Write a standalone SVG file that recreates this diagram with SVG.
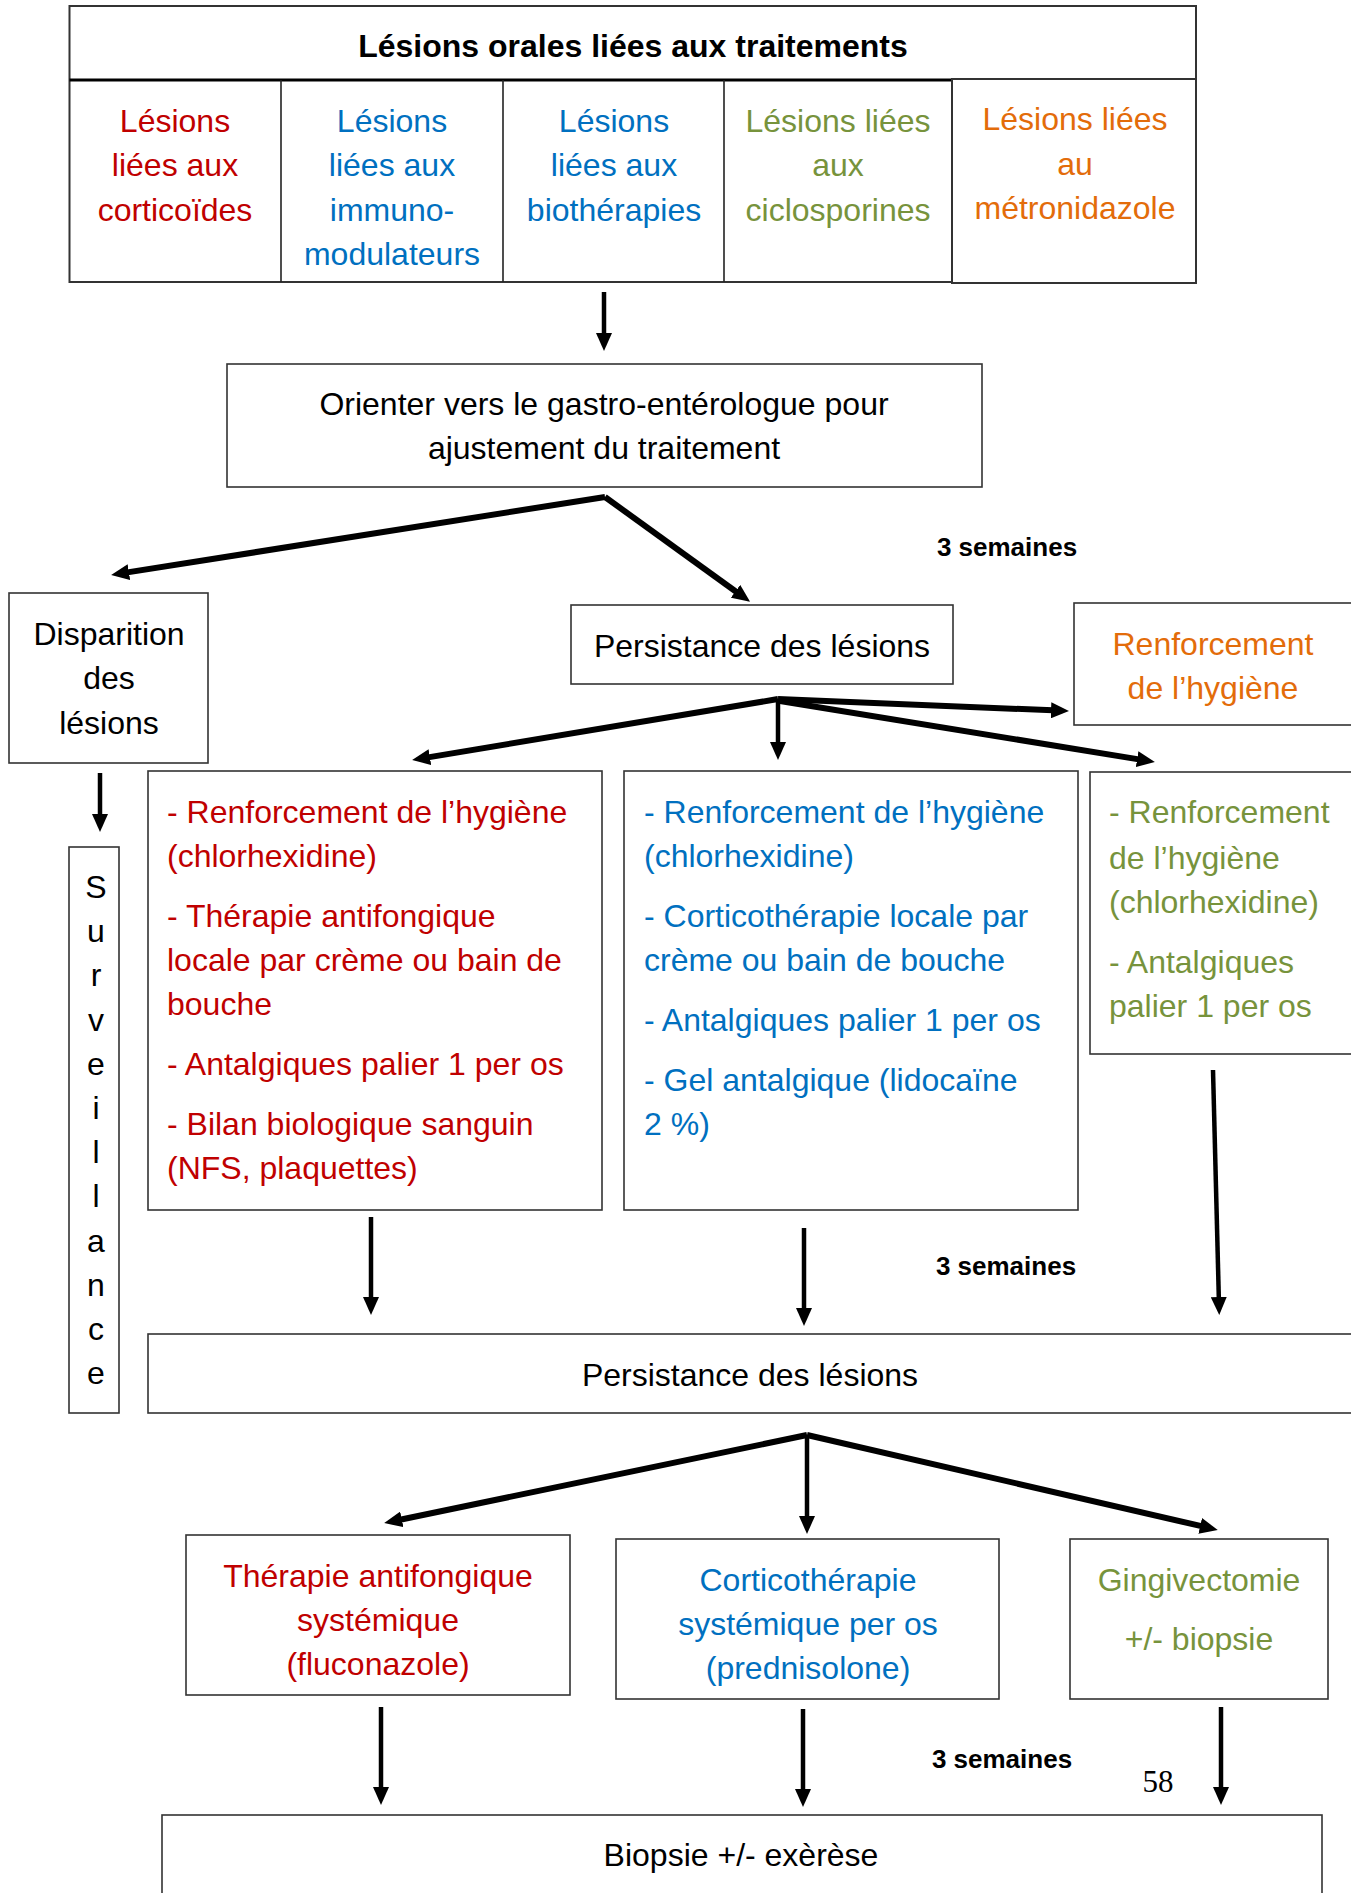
<svg xmlns="http://www.w3.org/2000/svg" width="1351" height="1893" viewBox="0 0 1351 1893">
<style>
text{font-family:"Liberation Sans",Arial,sans-serif;font-size:32px;fill:#000}
.b{font-weight:bold}
.c{text-anchor:middle}
.red{fill:#C00000}.blue{fill:#0070C0}.green{fill:#77933C}.orange{fill:#E36C0A}
.box{fill:#fff;stroke:#333;stroke-width:1.6}
.thin{stroke:#000;stroke-width:4.5;fill:none}
.thick{stroke:#000;stroke-width:6;fill:none}
.sem{font-weight:bold;font-size:26px}
</style>
<defs>
<marker id="ah" viewBox="0 0 18 16" refX="8" refY="8" markerWidth="18" markerHeight="16" markerUnits="userSpaceOnUse" orient="auto"><path d="M0,0 L18,8 L0,16 z" fill="#000"/></marker>
</defs>
<rect width="1351" height="1893" fill="#fff"/>

<g id="header">
<rect class="box" x="69.5" y="6" width="1126.5" height="276" style="stroke-width:2"/>
<line x1="69.5" y1="80" x2="952" y2="80" stroke="#000" stroke-width="3"/>
<text class="b c" x="633" y="57">Lésions orales liées aux traitements</text>
</g>
<g id="col1">
<line x1="281" y1="80" x2="281" y2="282" stroke="#222" stroke-width="1.6"/>
<text class="c red" x="175" y="132">Lésions</text>
<text class="c red" x="175" y="176">liées aux</text>
<text class="c red" x="175" y="221">corticoïdes</text>
</g>
<g id="col2">
<line x1="503" y1="80" x2="503" y2="282" stroke="#222" stroke-width="1.6"/>
<text class="c blue" x="392" y="132">Lésions</text>
<text class="c blue" x="392" y="176">liées aux</text>
<text class="c blue" x="392" y="221">immuno-</text>
<text class="c blue" x="392" y="265">modulateurs</text>
</g>
<g id="col3">
<line x1="724" y1="80" x2="724" y2="282" stroke="#222" stroke-width="1.6"/>
<text class="c blue" x="614" y="132">Lésions</text>
<text class="c blue" x="614" y="176">liées aux</text>
<text class="c blue" x="614" y="221">biothérapies</text>
</g>
<g id="col4">
<text class="c green" x="838" y="132">Lésions liées</text>
<text class="c green" x="838" y="176">aux</text>
<text class="c green" x="838" y="221">ciclosporines</text>
</g>
<g id="col5">
<rect class="box" x="952" y="79" width="244" height="204" style="stroke-width:2"/>
<text class="c orange" x="1075" y="130">Lésions liées</text>
<text class="c orange" x="1075" y="175">au</text>
<text class="c orange" x="1075" y="219">métronidazole</text>
</g>

<g id="orienter">
<rect class="box" x="227" y="364" width="755" height="123"/>
<text class="c" x="604" y="415">Orienter vers le gastro-entérologue pour</text>
<text class="c" x="604" y="459">ajustement du traitement</text>
</g>

<g id="disparition">
<rect class="box" x="9" y="593" width="199" height="170"/>
<text class="c" x="109" y="645">Disparition</text>
<text class="c" x="109" y="689">des</text>
<text class="c" x="109" y="734">lésions</text>
</g>

<g id="persistance1">
<rect class="box" x="571" y="605" width="382" height="79"/>
<text class="c" x="762" y="657">Persistance des lésions</text>
</g>

<g id="renforcement">
<rect class="box" x="1074" y="603" width="290" height="122"/>
<text class="c orange" x="1213" y="655">Renforcement</text>
<text class="c orange" x="1213" y="699">de l’hygiène</text>
</g>

<g id="surveillance">
<rect class="box" x="69" y="847" width="50" height="566"/>
<text class="c" x="96" y="898">S</text>
<text class="c" x="96" y="942">u</text>
<text class="c" x="96" y="986">r</text>
<text class="c" x="96" y="1031">v</text>
<text class="c" x="96" y="1075">e</text>
<text class="c" x="96" y="1119">i</text>
<text class="c" x="96" y="1163">l</text>
<text class="c" x="96" y="1207">l</text>
<text class="c" x="96" y="1252">a</text>
<text class="c" x="96" y="1296">n</text>
<text class="c" x="96" y="1340">c</text>
<text class="c" x="96" y="1384">e</text>
</g>

<g id="red1">
<rect class="box" x="148" y="771" width="454" height="439"/>
<text class="red" x="167" y="823">- Renforcement de l’hygiène</text>
<text class="red" x="167" y="867">(chlorhexidine)</text>
<text class="red" x="167" y="927">- Thérapie antifongique</text>
<text class="red" x="167" y="971">locale par crème ou bain de</text>
<text class="red" x="167" y="1015">bouche</text>
<text class="red" x="167" y="1075">- Antalgiques palier 1 per os</text>
<text class="red" x="167" y="1135">- Bilan biologique sanguin</text>
<text class="red" x="167" y="1179">(NFS, plaquettes)</text>
</g>

<g id="blue1">
<rect class="box" x="624" y="771" width="454" height="439"/>
<text class="blue" x="644" y="823">- Renforcement de l’hygiène</text>
<text class="blue" x="644" y="867">(chlorhexidine)</text>
<text class="blue" x="644" y="927">- Corticothérapie locale par</text>
<text class="blue" x="644" y="971">crème ou bain de bouche</text>
<text class="blue" x="644" y="1031">- Antalgiques palier 1 per os</text>
<text class="blue" x="644" y="1091">- Gel antalgique (lidocaïne</text>
<text class="blue" x="644" y="1135">2 %)</text>
</g>

<g id="green1">
<rect class="box" x="1090" y="772" width="280" height="282"/>
<text class="green" x="1109" y="823">- Renforcement</text>
<text class="green" x="1109" y="869">de l’hygiène</text>
<text class="green" x="1109" y="913">(chlorhexidine)</text>
<text class="green" x="1109" y="973">- Antalgiques</text>
<text class="green" x="1109" y="1017">palier 1 per os</text>
</g>

<g id="persistance2">
<rect class="box" x="148" y="1334" width="1220" height="79"/>
<text class="c" x="750" y="1386">Persistance des lésions</text>
</g>

<g id="red2">
<rect class="box" x="186" y="1535" width="384" height="160"/>
<text class="c red" x="378" y="1587">Thérapie antifongique</text>
<text class="c red" x="378" y="1631">systémique</text>
<text class="c red" x="378" y="1675">(fluconazole)</text>
</g>

<g id="blue2">
<rect class="box" x="616" y="1539" width="383" height="160"/>
<text class="c blue" x="808" y="1591">Corticothérapie</text>
<text class="c blue" x="808" y="1635">systémique per os</text>
<text class="c blue" x="808" y="1679">(prednisolone)</text>
</g>

<g id="green2">
<rect class="box" x="1070" y="1539" width="258" height="160"/>
<text class="c green" x="1199" y="1591">Gingivectomie</text>
<text class="c green" x="1199" y="1650">+/- biopsie</text>
</g>

<g id="biopsie">
<rect class="box" x="162" y="1815" width="1160" height="100"/>
<text class="c" x="741" y="1866">Biopsie +/- exèrèse</text>
</g>

<g id="labels">
<text class="sem c" x="1007" y="556">3 semaines</text>
<text class="sem c" x="1006" y="1275">3 semaines</text>
<text class="sem c" x="1002" y="1768">3 semaines</text>
<text x="1158" y="1792" style="font-family:'Liberation Serif','Times New Roman',serif;font-size:31px" class="c">58</text>
</g>

<g id="connectors">
<line class="thin" x1="604" y1="292" x2="604" y2="341" marker-end="url(#ah)"/>
<line class="thick" x1="605" y1="497" x2="121" y2="573.4" marker-end="url(#ah)"/>
<line class="thick" x1="605" y1="497" x2="742" y2="596" marker-end="url(#ah)"/>
<line class="thin" x1="100" y1="773" x2="100" y2="822" marker-end="url(#ah)"/>
<line class="thick" x1="778" y1="699" x2="422" y2="758.4" marker-end="url(#ah)"/>
<line class="thin" x1="778" y1="699" x2="778" y2="750" marker-end="url(#ah)"/>
<line class="thick" x1="778" y1="699" x2="1059" y2="710.6" marker-end="url(#ah)"/>
<line class="thick" x1="780" y1="701" x2="1145" y2="760.4" marker-end="url(#ah)"/>
<line class="thin" x1="371" y1="1217" x2="371" y2="1305" marker-end="url(#ah)"/>
<line class="thin" x1="804" y1="1228" x2="804" y2="1316" marker-end="url(#ah)"/>
<line class="thin" x1="1213" y1="1070" x2="1219" y2="1305" marker-end="url(#ah)"/>
<line class="thick" x1="807" y1="1435" x2="394" y2="1521" marker-end="url(#ah)"/>
<line class="thin" x1="807" y1="1435" x2="807" y2="1524" marker-end="url(#ah)"/>
<line class="thick" x1="807" y1="1435" x2="1208" y2="1527.7" marker-end="url(#ah)"/>
<line class="thin" x1="381" y1="1707" x2="381" y2="1795" marker-end="url(#ah)"/>
<line class="thin" x1="803" y1="1709" x2="803" y2="1797" marker-end="url(#ah)"/>
<line class="thin" x1="1221" y1="1707" x2="1221" y2="1795" marker-end="url(#ah)"/>
</g>
</svg>
